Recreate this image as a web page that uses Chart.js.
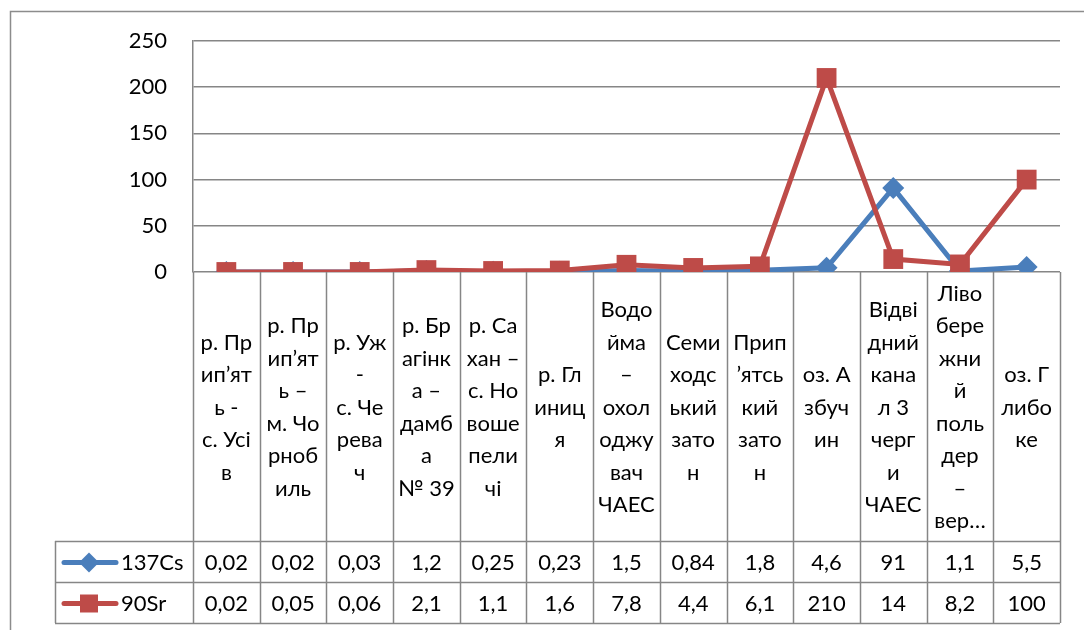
<!DOCTYPE html>
<html>
<head>
<meta charset="utf-8">
<script src="https://cdn.jsdelivr.net/npm/chart.js"></script>
<style>
  html, body { margin: 0; padding: 0; background: #fff; }
  #wrap { width: 1084px; height: 630px; position: relative; }
</style>
</head>
<body>
<div id="wrap"><canvas id="chart"></canvas></div>
<script>
// Category labels, already broken into lines as in the original table
const categories = [
  ['р. Пр', 'ип’ят', 'ь -', 'с. Усі', 'в'],
  ['р. Пр', 'ип’ят', 'ь –', 'м. Чо', 'рноб', 'иль'],
  ['р. Уж', '-', 'с. Че', 'рева', 'ч'],
  ['р. Бр', 'агінк', 'а –', 'дамб', 'а', '№ 39'],
  ['р. Са', 'хан –', 'с. Но', 'воше', 'пели', 'чі'],
  ['р. Гл', 'иниц', 'я'],
  ['Водо', 'йма', '–', 'охол', 'оджу', 'вач', 'ЧАЕС'],
  ['Семи', 'ходс', 'ький', 'зато', 'н'],
  ['Прип', '’ятсь', 'кий', 'зато', 'н'],
  ['оз. А', 'збуч', 'ин'],
  ['Відві', 'дний', 'кана', 'л 3', 'черг', 'и', 'ЧАЕС'],
  ['Ліво', 'бере', 'жни', 'й', 'поль', 'дер', '–', 'вер…'],
  ['оз. Г', 'либо', 'ке']
];
const seriesNames = ['137Cs', '90Sr'];
const cs137 = [0.02, 0.02, 0.03, 1.2, 0.25, 0.23, 1.5, 0.84, 1.8, 4.6, 91, 1.1, 5.5];
const sr90 = [0.02, 0.05, 0.06, 2.1, 1.1, 1.6, 7.8, 4.4, 6.1, 210, 14, 8.2, 100];
const yMax = 250;
const yStep = 50;

const BLUE = '#4A7EBB';
const RED = '#BE4B48';
const GRID = '#868686';
const FONT = 'Lato, "Noto Sans", sans-serif';

function fmt(v) { return String(v).replace('.', ','); }

function drawMarker(ctx, style, x, y, r, color) {
  ctx.fillStyle = color;
  ctx.beginPath();
  if (style === 'rectRot') {
    ctx.moveTo(x, y - r); ctx.lineTo(x + r, y); ctx.lineTo(x, y + r); ctx.lineTo(x - r, y);
  } else {
    ctx.rect(x - r, y - r, 2 * r, 2 * r);
  }
  ctx.closePath();
  ctx.fill();
}

// draws the frame, category labels and the data table under the plot
const tablePlugin = {
  id: 'dataTable',
  afterDraw(chart) {
    const ctx = chart.ctx;
    const area = chart.chartArea;
    const xs = chart.scales.x;
    const n = categories.length;
    const colW = (area.right - area.left) / n;
    const labelTop = area.bottom;
    const row1 = 541, rowH = 41, tableLeft = 55;
    const tableBottom = row1 + 2 * rowH;

    ctx.save();
    // outer chart frame
    ctx.strokeStyle = '#8c8c8c';
    ctx.lineWidth = 1.5;
    ctx.beginPath();
    ctx.moveTo(10.5, 630); ctx.lineTo(10.5, 11.5); ctx.lineTo(1084, 11.5);
    ctx.stroke();

    ctx.strokeStyle = GRID;
    ctx.lineWidth = 1.5;
    ctx.beginPath();
    for (let i = 0; i <= n; i++) {
      const px = Math.round(xs.getPixelForValue(i) - colW / 2) + 0.5;
      ctx.moveTo(px, labelTop); ctx.lineTo(px, tableBottom);
    }
    for (let r = 0; r <= 2; r++) {
      const py = row1 + r * rowH + 0.5;
      ctx.moveTo(tableLeft, py); ctx.lineTo(area.right, py);
    }
    ctx.moveTo(tableLeft + 0.5, row1); ctx.lineTo(tableLeft + 0.5, tableBottom);
    ctx.stroke();

    // category labels
    ctx.fillStyle = '#000';
    ctx.font = '22px ' + FONT;
    ctx.textAlign = 'center';
    ctx.textBaseline = 'middle';
    const lineH = 32.5;
    const midY = (labelTop + row1) / 2 + 1;
    categories.forEach((lines, i) => {
      const cx = xs.getPixelForValue(i);
      const y0 = midY - (lines.length - 1) * lineH / 2;
      lines.forEach((t, k) => ctx.fillText(t, cx, y0 + k * lineH));
    });

    // table rows
    const rows = [[cs137, BLUE, 'rectRot', 10], [sr90, RED, 'rect', 9]];
    rows.forEach(([vals, color, marker, mr], r) => {
      const cy = row1 + r * rowH + rowH / 2 + 1;
      ctx.strokeStyle = color;
      ctx.lineWidth = 5;
      ctx.lineCap = 'round';
      ctx.beginPath(); ctx.moveTo(64, cy); ctx.lineTo(116, cy); ctx.stroke();
      drawMarker(ctx, marker, 89, cy, mr, color);
      ctx.fillStyle = '#000';
      ctx.textAlign = 'left';
      ctx.fillText(seriesNames[r], 121, cy);
      ctx.textAlign = 'center';
      vals.forEach((v, i) => ctx.fillText(fmt(v), xs.getPixelForValue(i), cy));
    });
    ctx.restore();
  }
};

new Chart(document.getElementById('chart'), {
  type: 'line',
  data: {
    labels: categories.map(l => l.join(' ')),
    datasets: [
      {
        label: seriesNames[0], data: cs137, order: 1,
        borderColor: BLUE, backgroundColor: BLUE, borderWidth: 5,
        pointStyle: 'rectRot', pointRadius: 11, pointBorderWidth: 0,
        tension: 0
      },
      {
        label: seriesNames[1], data: sr90, order: 0,
        borderColor: RED, backgroundColor: RED, borderWidth: 5,
        pointStyle: 'rect', pointRadius: 14, pointBorderWidth: 0,
        tension: 0
      }
    ]
  },
  options: {
    responsive: true,
    maintainAspectRatio: false,
    animation: false,
    events: [],
    layout: { padding: { top: 41, right: 24, bottom: 358, left: 0 } },
    plugins: { legend: { display: false }, tooltip: { enabled: false } },
    scales: {
      x: { display: false, offset: true },
      y: {
        min: 0, max: yMax,
        afterFit(scale) { scale.width = 193; },
        border: { display: true, color: GRID, width: 1.5 },
        grid: { color: GRID, lineWidth: 1.5, drawTicks: false },
        ticks: { stepSize: yStep, padding: 26, color: '#000', font: { family: FONT, size: 22 } }
      }
    }
  },
  plugins: [tablePlugin]
});
</script>
</body>
</html>
